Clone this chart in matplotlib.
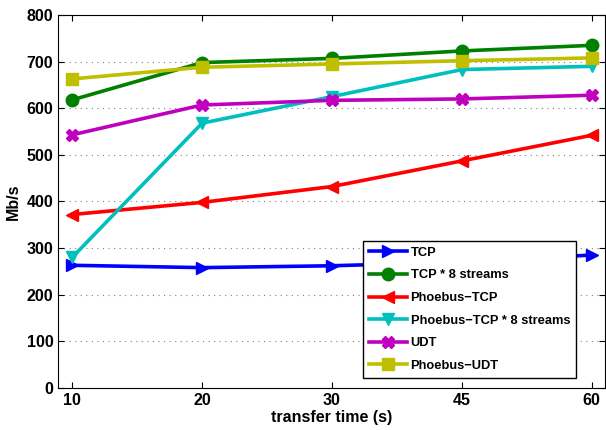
import matplotlib
matplotlib.use("Agg")
import matplotlib.pyplot as plt

plt.rcParams["font.family"] = ["Liberation Sans", "DejaVu Sans"]
plt.rcParams["font.weight"] = "bold"

times = ["10", "20", "30", "45", "60"]
tcp = [263, 258, 262, 270, 285]
tcp8 = [618, 698, 707, 723, 735]
ph_tcp = [372, 398, 432, 487, 542]
ph_tcp8 = [280, 568, 625, 683, 690]
udt = [543, 607, 617, 620, 628]
ph_udt = [663, 688, 695, 702, 708]

series = [
    ("TCP", tcp, "#0000ff", ">"),
    ("TCP * 8 streams", tcp8, "#008000", "o"),
    ("Phoebus\u2212TCP", ph_tcp, "#ff0000", "<"),
    ("Phoebus\u2212TCP * 8 streams", ph_tcp8, "#00bfbf", "v"),
    ("UDT", udt, "#bf00bf", "X"),
    ("Phoebus\u2212UDT", ph_udt, "#bfbf00", "s"),
]

fig = plt.figure(figsize=(6.06, 4.30), dpi=100)
ax = fig.add_axes([0.096, 0.098, 0.902, 0.867])
x = list(range(len(times)))
for name, vals, col, mk in series:
    ax.plot(x, vals, color=col, marker=mk, lw=2.6, ms=9, label=name)

ax.set_xlim(-0.108, 4.1)
ax.set_ylim(0, 800)
ax.set_xticks(x)
ax.set_xticklabels(times)
ax.set_yticks(range(0, 801, 100))
ax.tick_params(direction="in", top=True, right=True, labelsize=11.5, length=4)
for lab in ax.get_xticklabels() + ax.get_yticklabels():
    lab.set_fontweight("bold")
ax.yaxis.grid(True, linestyle=(0, (1, 4)), color="#808080", lw=0.8)
ax.set_xlabel("transfer time (s)", fontsize=11.5, fontweight="bold", labelpad=2)
ax.set_ylabel("Mb/s", fontsize=11.5, fontweight="bold")

leg = ax.legend(loc="lower right", bbox_to_anchor=(0.947, 0.027),
                fontsize=9.3, handlelength=2.9, fancybox=False,
                edgecolor="black", framealpha=1, borderaxespad=0,
                labelspacing=0.82, handletextpad=0.3, borderpad=0.45)
leg.get_frame().set_linewidth(1.0)
leg.set_zorder(10)
for t in leg.get_texts():
    t.set_fontweight("bold")

fig.savefig("out.png", dpi=100)
